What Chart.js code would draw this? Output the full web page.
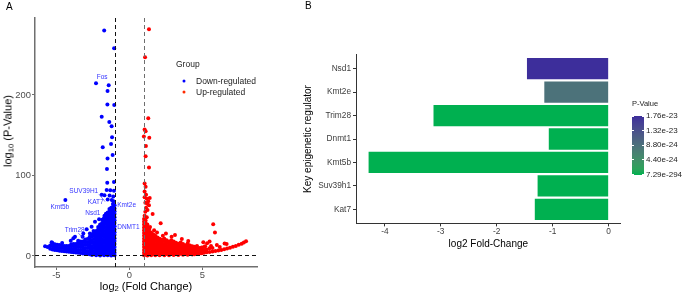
<!DOCTYPE html>
<html><head><meta charset="utf-8">
<script src="https://cdn.jsdelivr.net/npm/chart.js@4.4.1/dist/chart.umd.min.js"></script>
<style>
html,body{margin:0;padding:0;background:#fff}
body{width:685px;height:295px;position:relative;overflow:hidden;font-family:"Liberation Sans",Arial,Helvetica,sans-serif;color:#000}
canvas{position:absolute;top:0}
#ca{left:0}
#cb{left:280px}
.t{position:absolute;white-space:nowrap;line-height:1;transform:translateY(-50%)}
.dot{position:absolute;width:3px;height:3px;border-radius:50%;transform:translate(-50%,-50%)}
.rot{position:absolute;white-space:nowrap;line-height:1;transform:translate(-50%,-50%) rotate(-90deg)}
.ctr{position:absolute;white-space:nowrap;line-height:1;transform:translate(-50%,-50%)}
sub{font-size:70%;vertical-align:-0.25em;line-height:0}
.tk{position:absolute;height:1px;width:2px;background:#fff}
</style></head><body>
<canvas id="ca" width="275" height="295"></canvas>
<canvas id="cb" width="405" height="295"></canvas>

<div class="t" style="left:6px;top:7px;font-size:10px">A</div>
<div class="t" style="left:305px;top:6px;font-size:10px">B</div>

<div class="rot" style="left:8px;top:131px;font-size:11px">log<sub>10</sub> (P-Value)</div>
<div class="ctr" style="left:146px;top:286px;font-size:11px">log<sub>2</sub> (Fold Change)</div>

<div class="t" style="left:176px;top:64px;font-size:8.5px;color:#222">Group</div>
<div class="dot" style="left:184px;top:80.5px;background:#0000ff"></div>
<div class="t" style="left:196px;top:80.5px;font-size:8.5px;color:#222">Down-regulated</div>
<div class="dot" style="left:184px;top:92px;background:#ff2a00"></div>
<div class="t" style="left:196px;top:92px;font-size:8.5px;color:#222">Up-regulated</div>

<div class="t" style="left:632px;top:103.5px;font-size:7.5px;color:#222">P-Value</div>
<div id="cbar" style="position:absolute;left:632px;top:116px;width:11.5px;height:58.5px"></div>
<div id="cbarLabels"></div>

<script>
// ---------------- Panel A data (volcano) ----------------
// dense clouds: [log2FC, [log10 P values of the dots at that fold change]]
const downCloud = [
 [-1.01,[0.8,4,7.5,11,15,18.5,22,26,29.5,33,37,41,44.5,48,52,55.5,59,63]],
 [-1.12,[1.5,5,9,12.5,16,20,23.5,27,31,35,38.5,42,46,50,53.5,57,61,64.5]],
 [-1.24,[0.6,4,8,11.5,15,19,22.5,26,30,33.5,37,41,45,48.5,52,56,60]],
 [-1.36,[2,5.5,9.5,13,17,20.5,24,28,32,35.5,39.5,43,47,51,55,58.5]],
 [-1.48,[0.9,4.5,8,12,15.5,19.5,23,27,30.5,34.5,38,42,46,50,54]],
 [-1.6,[2.2,6,9.5,13.5,17,21,24.5,28.5,32,36,40,44,48,52.5]],
 [-1.73,[1,4.5,8.5,12,16,19.5,23.5,27,31,35,39,43,47]],
 [-1.86,[2.5,6,10,13.5,17.5,21,25,29,33,37,41,45]],
 [-2.0,[0.7,4.5,8,12,15.5,19.5,23,27,31,35,39]],
 [-2.13,[2,6,9.5,13.5,17,21,25,29,33,36]],
 [-2.27,[0.8,4.5,8,12,15.5,19.5,23,27,31]],
 [-2.41,[2.5,6,10,13.5,17,21,25,29]],
 [-2.56,[1.2,5,8.5,12,16,19.5,23.5,27]],
 [-2.71,[2,5.5,9.5,13,17,20.5,24]],
 [-2.86,[2.4,6,10,13.5,17,21]],
 [-3.02,[3,6.5,10,14,17.5,20.5]],
 [-3.18,[3.2,7,10.5,14,18]],
 [-3.34,[3.6,7.5,11,14.5,18]],
 [-3.5,[4,7.5,11,14.5,17]],
 [-3.66,[4.3,8,11.5,15]],
 [-3.82,[4.6,8.5,12,15]],
 [-3.98,[5,8.5,12,14.5]],
 [-4.14,[5.2,9,12.5]],
 [-4.3,[5.5,9,12.5]],
 [-4.46,[5.9,9.5,12.5]],
 [-4.62,[6.2,10,13]],
 [-4.78,[6.5,10,13.5]],
 [-4.94,[7,10.5,14]],
 [-5.1,[7.4,11,14.5]],
 [-5.26,[8,12,15.5]],
 [-5.42,[9,13]]
];
const downScatter = [
 [-1.72,280],[-1.04,258],[-2.28,214.5],[-1.41,212],[-1.49,205],[-1.50,188],[-1.03,187.6],
 [-1.89,173],[-1.37,166.5],[-1.21,161],[-1.18,147.4],[-1.25,139],[-1.82,135],[-1.14,125.5],
 [-1.49,121],[-1.53,108],[-1.05,92],[-1.51,91],[-1.55,82],[-1.3,81.5],[-1.05,81],[-1.7,75.5],
 [-1.89,76],[-1.35,75],[-1.1,74],[-1.48,70],[-1.2,69.5],[-1.08,68],[-4.38,69.6],[-1.7,50],
 [-2.07,45.5],[-2.35,42.6],[-1.82,40.6],[-1.71,46.8],[-2.58,36.4],[-1.89,32.3],[-2.16,28.2],
 [-2.92,33.2],[-3.15,28],[-3.72,24],[-3.83,22],[-4.01,19],[-3.2,24],[-5.32,17],[-5.27,16],
 [-5.77,12],[-5.16,8.5],[-4.6,16],[-3.5,19],[-2.7,28],[-2.45,31],[-5.6,11]
];
const upCloud = [
 [1.01,[0.8,4,7.5,11,14.5,18,21.5,25,28.5,32,35.5,39,42.5,46]],
 [1.12,[1.8,5.5,9,12.5,16,19.5,23,26.5,30,33.5,37,40.5,44]],
 [1.24,[0.6,4,7.5,11,14.5,18,21.5,25,28.5,32,35.5,39]],
 [1.37,[2,5.5,9,12.5,16,19.5,23,26.5,30,33.5]],
 [1.5,[0.9,4.5,8,11.5,15,18.5,22,25.5,29]],
 [1.64,[2.5,6,9.5,13,16.5,20,23.5,27]],
 [1.78,[1,4.5,8,11.5,15,18.5,22,25]],
 [1.93,[2.2,5.8,9.3,12.8,16.3,19.8,23]],
 [2.08,[0.8,4.3,7.8,11.3,14.8,18.3,21.5]],
 [2.24,[2.5,6,9.5,13,16.5,20]],
 [2.4,[1,4.5,8,11.5,15,18.5,21.5]],
 [2.56,[2.3,5.8,9.3,12.8,16.3,19.5]],
 [2.72,[0.9,4.4,7.9,11.4,14.9,18]],
 [2.88,[2.4,5.9,9.4,12.9,16.4,19.5]],
 [3.04,[1.1,4.6,8.1,11.6,15.1,18]],
 [3.2,[2.6,6.1,9.6,13.1,16.5]],
 [3.36,[1.2,4.7,8.2,11.7,15.2]],
 [3.52,[2.8,6.3,9.8,13.3,16.8]],
 [3.68,[1.4,4.9,8.4,11.9,15]],
 [3.84,[2.9,6.4,9.9,13.4]],
 [4.0,[1.5,5,8.5,12,15.5]],
 [4.16,[3,6.5,10,13]],
 [4.32,[1.7,5.2,8.7,12]],
 [4.48,[2,5.5,9,11.5]],
 [4.64,[2.5,6,9.5,12.5]],
 [4.8,[3,6.5,10]],
 [4.96,[3.5,7,10.5]],
 [5.12,[4,7.5,11]],
 [5.3,[4.5,8]],
 [5.5,[5,9.5]],
 [5.7,[5.5,10]]
];
const upScatter = [
 [1.35,281.6],[1.08,246.8],[1.30,171],[1.05,157],[1.12,155],[1.0,148.5],[1.37,147],[1.14,136.6],
 [1.12,124],[1.35,110],[1.05,90],[1.12,86],[1.05,80],[1.15,76],[1.05,73],[1.2,71],[1.4,72],
 [1.3,68],[1.1,66],[1.23,65],[1.35,63],[1.15,60],[1.25,57],[1.1,55],[1.6,52],[1.05,50],[1.2,48],
 [2.15,40.6],[1.42,36],[1.7,32],[2.51,28],[3.13,26],[2.9,24],[3.6,21],[4.04,18.6],[5.75,39.4],
 [5.87,29],[5.07,17],[5.5,18],[6.67,15],[2.3,25],[1.9,29],[5.33,15.7],[6.0,13.5],[6.53,15.5],
 [5.9,6.2],[6.1,6.8],[6.3,7.5],[6.5,8.3],[6.7,9.2],[6.9,10.2],[7.1,11.3],[7.3,12.5],[7.5,13.8],
 [7.7,15.2],[7.85,16.6],[8.0,18.2],[5.2,12],[5.6,12.5],[6.2,11]
];
const foldCut = [-1, 1];
const pCut = 1.3;
const xTicksA = [-5, 0, 5];
const yTicksA = [0, 100, 200];
const geneLabels = ['Fos','SUV39H1','KAT7','Kmt5b','Nsd1','Kmt2e','Trim28','DNMT1'];
const geneLabelX = [-1.86,-3.12,-2.30,-4.76,-2.5,-0.18,-3.74,-0.06];
const geneLabelY = [221.5,79.9,67.1,60.4,53.0,63.6,32.3,35.2];
const labelLines = [[-2.07,76.6,-1.66,67.5],[-3.49,28.2,-3.19,23.2]];

// ---------------- Panel B data ----------------
const regulators = ['Nsd1','Kmt2e','Trim28','Dnmt1','Kmt5b','Suv39h1','Kat7'];
const foldChanges = [-1.46,-1.15,-3.13,-1.07,-4.29,-1.27,-1.32];
const pValues = [1.76e-23,8.6e-24,2.1e-35,3.4e-41,7.29e-294,5.6e-80,1.2e-66];
const xTicksB = [-4,-3,-2,-1,0];
const pBreaks = [1.76e-23,1.32e-23,8.80e-24,4.40e-24,7.29e-294];
const pBreakLabels = ['1.76e-23','1.32e-23','8.80e-24','4.40e-24','7.29e-294'];

// ---------------- helpers ----------------
const FONT = '"Liberation Sans", Arial, Helvetica, sans-serif';
Chart.defaults.font.family = FONT;

const flatten = (cloud, scatter) => {
  const out = [];
  cloud.forEach(([x, ys]) => ys.forEach(y => out.push({x, y})));
  scatter.forEach(([x, y]) => out.push({x, y}));
  return out;
};

function hex2rgb(h){return [1,3,5].map(i=>parseInt(h.substr(i,2),16));}
function s2l(c){c/=255;return c<=0.04045?c/12.92:Math.pow((c+0.055)/1.055,2.4);}
function l2s(c){c=c<=0.0031308?12.92*c:1.055*Math.pow(c,1/2.4)-0.055;return Math.round(Math.max(0,Math.min(1,c))*255);}
function rgb2lab(rgb){const [r,g,b]=rgb.map(s2l);
  const X=(0.4124*r+0.3576*g+0.1805*b)/0.95047,Y=0.2126*r+0.7152*g+0.0722*b,Z=(0.0193*r+0.1192*g+0.9505*b)/1.08883;
  const f=t=>t>0.008856?Math.cbrt(t):7.787*t+16/116;const fx=f(X),fy=f(Y),fz=f(Z);
  return [116*fy-16,500*(fx-fy),200*(fy-fz)];}
function lab2rgb([L,a,b]){const fy=(L+16)/116,fx=fy+a/500,fz=fy-b/200;
  const fi=t=>t*t*t>0.008856?t*t*t:(t-16/116)/7.787;
  const X=fi(fx)*0.95047,Y=fi(fy),Z=fi(fz)*1.08883;
  const r=3.2406*X-1.5372*Y-0.4986*Z,g=-0.9689*X+1.8758*Y+0.0415*Z,bb=0.0557*X-0.2040*Y+1.0570*Z;
  return [r,g,bb].map(l2s);}
const lowLab = rgb2lab(hex2rgb('#00B050'));
const highLab = rgb2lab(hex2rgb('#3D2E9B'));
const pMin = Math.min(...pValues), pMax = Math.max(...pValues);
function pColor(p){
  const t = Math.max(0, Math.min(1, (p - pMin) / (pMax - pMin)));
  const c = lab2rgb(lowLab.map((v,i)=>v+(highLab[i]-v)*t));
  return 'rgb('+c.join(',')+')';
}

// ---------------- Panel A chart ----------------
const annot = {
  id: 'annot',
  afterDatasetsDraw(chart){
    const {ctx, chartArea:a, scales:{x, y}} = chart;
    ctx.save();
    ctx.lineWidth = 1;
    ctx.setLineDash([4,3]);
    const cutCol = ['#111111','#6e6e6e'];
    foldCut.forEach((v,i)=>{
      const px = Math.round(x.getPixelForValue(v))+0.5;
      ctx.strokeStyle = cutCol[i];
      ctx.beginPath(); ctx.moveTo(px, a.top); ctx.lineTo(px, a.bottom); ctx.stroke();
    });
    const py = Math.round(y.getPixelForValue(pCut))+0.5;
    ctx.strokeStyle = '#111111';
    ctx.beginPath(); ctx.moveTo(a.left, py); ctx.lineTo(a.right, py); ctx.stroke();
    ctx.setLineDash([]);
    ctx.strokeStyle = '#4040ff'; ctx.lineWidth = 0.7;
    labelLines.forEach(([x1,y1,x2,y2])=>{
      ctx.beginPath(); ctx.moveTo(x.getPixelForValue(x1), y.getPixelForValue(y1));
      ctx.lineTo(x.getPixelForValue(x2), y.getPixelForValue(y2)); ctx.stroke();
    });
    ctx.fillStyle = '#3535ff';
    ctx.font = '6.5px ' + FONT;
    ctx.textAlign = 'center'; ctx.textBaseline = 'middle';
    geneLabels.forEach((g,i)=>ctx.fillText(g, x.getPixelForValue(geneLabelX[i]), y.getPixelForValue(geneLabelY[i])));
    ctx.restore();
  }
};

new Chart(document.getElementById('ca'), {
  type: 'scatter',
  data: { datasets: [
    { label: 'Down-regulated', data: flatten(downCloud, downScatter), backgroundColor: '#0000ff', borderWidth: 0, pointRadius: 2, pointHoverRadius: 2 },
    { label: 'Up-regulated', data: flatten(upCloud, upScatter), backgroundColor: '#ff0000', borderWidth: 0, pointRadius: 2, pointHoverRadius: 2 }
  ]},
  options: {
    responsive: false, animation: false, events: [],
    layout: { padding: { left: 0, top: 18, right: 18, bottom: 2 } },
    plugins: { legend: { display: false }, tooltip: { enabled: false } },
    scales: {
      x: {
        type: 'linear', min: -6.46, max: 8.75,
        afterBuildTicks: s => { s.ticks = xTicksA.map(v => ({value: v})); },
        afterFit: s => { s.height = 26; },
        grid: { display: true, drawOnChartArea: false, drawTicks: true, tickLength: 3, tickColor: '#6f6f6f', tickWidth: 1 },
        border: { display: true, color: '#6f6f6f', width: 1.5 },
        ticks: { font: { size: 9.4 }, color: '#4d4d4d', padding: 0, maxRotation: 0, autoSkip: false },
        title: { display: false }
      },
      y: {
        type: 'linear', min: -13.7, max: 295.6,
        afterBuildTicks: s => { s.ticks = yTicksA.map(v => ({value: v})); },
        afterFit: s => { s.width = 35; },
        grid: { display: true, drawOnChartArea: false, drawTicks: true, tickLength: 3, tickColor: '#6f6f6f', tickWidth: 1 },
        border: { display: true, color: '#6f6f6f', width: 1.5 },
        ticks: { font: { size: 9.4 }, color: '#4d4d4d', padding: 1, autoSkip: false },
        title: { display: false }
      }
    }
  },
  plugins: [annot]
});

// ---------------- Panel B chart ----------------
new Chart(document.getElementById('cb'), {
  type: 'bar',
  data: { datasets: [{
    data: foldChanges.map((v,i)=>({x: v, y: i})),
    backgroundColor: pValues.map(pColor),
    borderWidth: 0, categoryPercentage: 1, barPercentage: 0.91
  }]},
  options: {
    indexAxis: 'y', responsive: false, animation: false, events: [],
    layout: { padding: { left: 0, top: 54.6, right: 64.3, bottom: 44.6 } },
    plugins: { legend: { display: false }, tooltip: { enabled: false } },
    scales: {
      x: {
        type: 'linear', min: -4.515, max: 0.215,
        afterBuildTicks: s => { s.ticks = xTicksB.map(v => ({value: v})); },
        afterFit: s => { s.height = 27; },
        grid: { display: true, drawOnChartArea: false, drawTicks: true, tickLength: 3, tickColor: '#333', tickWidth: 1 },
        border: { display: true, color: '#333', width: 1 },
        ticks: { font: { size: 8.3 }, color: '#3d3d3d', padding: 0, maxRotation: 0, autoSkip: false },
        title: { display: true, text: 'log2 Fold-Change', font: { size: 10 }, color: '#000', padding: { top: 0, bottom: 0 } }
      },
      y: {
        type: 'linear', reverse: true, offset: false, min: -0.6, max: 6.6,
        afterBuildTicks: s => { s.ticks = regulators.map((_,i) => ({value: i})); },
        afterFit: s => { s.width = 76; },
        grid: { display: true, offset: false, drawOnChartArea: false, drawTicks: true, tickLength: 3, tickColor: '#333', tickWidth: 1 },
        border: { display: true, color: '#333', width: 1 },
        ticks: { font: { size: 8.3 }, color: '#3d3d3d', padding: 2, autoSkip: false, callback: v => regulators[v] },
        title: { display: true, text: 'Key epigenetic regulator', font: { size: 10 }, color: '#000', padding: { top: 22, bottom: 0 } }
      }
    }
  }
});

// ---------------- colour bar legend ----------------
const stops = [];
for (let k = 0; k <= 10; k++) {
  const p = pMax - (pMax - pMin) * k / 10;
  stops.push(pColor(p) + ' ' + (k*10) + '%');
}
const bar = document.getElementById('cbar');
bar.style.background = 'linear-gradient(to bottom,' + stops.join(',') + ')';
const barTop = 116, barH = 58.5;
const holder = document.getElementById('cbarLabels');
pBreaks.forEach((p, i) => {
  const yy = barTop + barH * (pMax - p) / (pMax - pMin);
  const lab = document.createElement('div');
  lab.className = 't';
  lab.style.cssText = 'left:646px;top:' + yy + 'px;font-size:8px;color:#222';
  lab.textContent = pBreakLabels[i];
  holder.appendChild(lab);
  [632, 641.5].forEach(xx => {
    const tk = document.createElement('div');
    tk.className = 'tk';
    tk.style.left = xx + 'px';
    tk.style.top = (yy - 0.5) + 'px';
    holder.appendChild(tk);
  });
});
</script>
</body></html>
